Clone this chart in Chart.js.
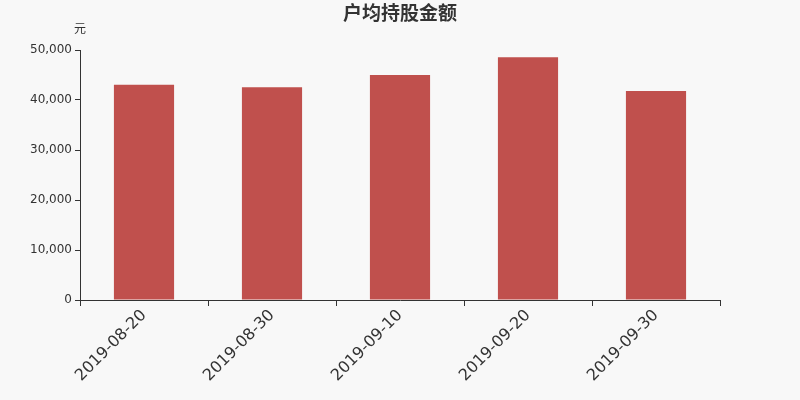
<!DOCTYPE html>
<html>
<head>
<meta charset="utf-8">
<script src="https://cdn.jsdelivr.net/npm/chart.js@4"></script>
<style>
  html, body { margin: 0; padding: 0; background: #f8f8f8; }
  #wrap { width: 800px; height: 400px; }
</style>
</head>
<body>
<div id="wrap"><canvas id="chart"></canvas></div>
<script>
// Data
const categories = ['2019-08-20', '2019-08-30', '2019-09-10', '2019-09-20', '2019-09-30'];
const holdingValues = [43050, 42550, 45000, 48550, 41800];
const yTicks = [0, 10000, 20000, 30000, 40000, 50000];

const FONT = '"DejaVu Sans", "Noto Sans CJK SC", sans-serif';
const CJK = '"Noto Sans CJK SC", sans-serif';

// Title centred on the full canvas, plus the unit label above the y axis
const headerText = {
    id: 'headerText',
    afterDraw(chart) {
        const ctx = chart.ctx;
        const area = chart.chartArea;
        ctx.save();
        ctx.fillStyle = '#333';
        ctx.textAlign = 'center';
        ctx.textBaseline = 'middle';
        ctx.font = 'bold 19px ' + CJK;
        ctx.fillText('户均持股金额', chart.width / 2, 13);
        ctx.font = '12px ' + CJK;
        ctx.fillText('元', area.left, area.top - 22);
        ctx.restore();
    }
};

new Chart(document.getElementById('chart'), {
    type: 'bar',
    data: {
        labels: categories,
        datasets: [{
            label: '户均持股金额',
            data: holdingValues,
            backgroundColor: '#c0504d',
            barPercentage: 0.47,
            categoryPercentage: 1
        }]
    },
    options: {
        responsive: true,
        maintainAspectRatio: false,
        animation: false,
        layout: { padding: { top: 50, right: 80, left: 0, bottom: 0 } },
        plugins: {
            legend: { display: false },
            tooltip: { enabled: false },
            title: { display: false }
        },
        scales: {
            x: {
                grid: { display: true, drawOnChartArea: false, offset: true, tickLength: 6, color: '#333' },
                border: { display: true, color: '#333' },
                ticks: {
                    color: '#333',
                    font: { family: FONT, size: 16 },
                    minRotation: 45,
                    maxRotation: 45,
                    padding: 0
                },
                afterFit(scale) { scale.height = 100; }
            },
            y: {
                min: 0,
                max: 50000,
                afterBuildTicks(scale) {
                    scale.ticks = yTicks.map(v => ({ value: v }));
                },
                grid: { display: true, drawOnChartArea: false, tickLength: 5, color: '#333' },
                border: { display: true, color: '#333' },
                ticks: {
                    color: '#333',
                    font: { family: FONT, size: 12 },
                    padding: 3,
                    callback: v => v.toLocaleString('en-US')
                },
                afterFit(scale) { scale.width = 80; }
            }
        }
    },
    plugins: [headerText]
});
</script>
</body>
</html>
